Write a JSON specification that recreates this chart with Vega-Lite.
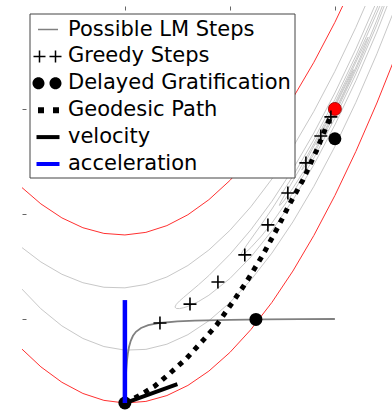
{
  "$schema": "https://vega.github.io/schema/vega-lite/v6.json",
  "autosize": {"type": "none"},
  "padding": {"left": 22, "top": 6, "right": 0, "bottom": 0},
  "width": 370,
  "height": 405,
  "background": "white",
  "config": {"view": {"stroke": null}},
  "datasets": {
    "red": [
      {"c":"ru","i":0,"x":-0.5,"y":0.6341},{"c":"ru","i":1,"x":-0.4,"y":0.5478},{"c":"ru","i":2,"x":-0.3,"y":0.4813},{"c":"ru","i":3,"x":-0.2,"y":0.4345},{"c":"ru","i":4,"x":-0.1,"y":0.4074},{"c":"ru","i":5,"x":0,"y":0.4},{"c":"ru","i":6,"x":0.1,"y":0.4124},{"c":"ru","i":7,"x":0.2,"y":0.4445},{"c":"ru","i":8,"x":0.3,"y":0.4963},{"c":"ru","i":9,"x":0.4,"y":0.5679},{"c":"ru","i":10,"x":0.5,"y":0.6593},{"c":"ru","i":11,"x":0.6,"y":0.7704},{"c":"ru","i":12,"x":0.7,"y":0.9012},{"c":"ru","i":13,"x":0.8,"y":1.0518},{"c":"ru","i":14,"x":0.9,"y":1.2222},{"c":"ru","i":15,"x":1.0,"y":1.4123},{"c":"ru","i":16,"x":1.1,"y":1.6222},
      {"c":"rl","i":0,"x":-0.5,"y":-0.1341},{"c":"rl","i":1,"x":-0.4,"y":-0.2278},{"c":"rl","i":2,"x":-0.3,"y":-0.3013},{"c":"rl","i":3,"x":-0.2,"y":-0.3545},{"c":"rl","i":4,"x":-0.1,"y":-0.3874},{"c":"rl","i":5,"x":0,"y":-0.4},{"c":"rl","i":6,"x":0.1,"y":-0.3924},{"c":"rl","i":7,"x":0.2,"y":-0.3645},{"c":"rl","i":8,"x":0.3,"y":-0.3163},{"c":"rl","i":9,"x":0.4,"y":-0.2479},{"c":"rl","i":10,"x":0.5,"y":-0.1593},{"c":"rl","i":11,"x":0.6,"y":-0.0504},{"c":"rl","i":12,"x":0.7,"y":0.0788},{"c":"rl","i":13,"x":0.8,"y":0.2282},{"c":"rl","i":14,"x":0.9,"y":0.3978},{"c":"rl","i":15,"x":1.0,"y":0.5877},{"c":"rl","i":16,"x":1.1,"y":0.7978},{"c":"rl","i":17,"x":1.2,"y":1.0282},{"c":"rl","i":18,"x":1.3,"y":1.2788},{"c":"rl","i":19,"x":1.4,"y":1.5496}
    ],
    "gray": [
      {"c":"a","i":0,"x":-0.5,"y":0.3475},{"c":"a","i":1,"x":-0.4,"y":0.2714},{"c":"a","i":2,"x":-0.3,"y":0.2129},{"c":"a","i":3,"x":-0.2,"y":0.1727},{"c":"a","i":4,"x":-0.1,"y":0.1511},{"c":"a","i":5,"x":0,"y":0.1483},{"c":"a","i":6,"x":0.1,"y":0.1646},{"c":"a","i":7,"x":0.2,"y":0.2},{"c":"a","i":8,"x":0.3,"y":0.2546},{"c":"a","i":9,"x":0.4,"y":0.3285},{"c":"a","i":10,"x":0.5,"y":0.4218},{"c":"a","i":11,"x":0.6,"y":0.5344},{"c":"a","i":12,"x":0.7,"y":0.6664},{"c":"a","i":13,"x":0.8,"y":0.8178},{"c":"a","i":14,"x":0.9,"y":0.9886},{"c":"a","i":15,"x":1.0,"y":1.1789},{"c":"a","i":16,"x":1.1,"y":1.3886},{"c":"a","i":17,"x":1.2,"y":1.6178},
      {"c":"b","i":0,"x":-0.5,"y":0.1525},{"c":"b","i":1,"x":-0.4,"y":0.0486},{"c":"b","i":2,"x":-0.3,"y":-0.0329},{"c":"b","i":3,"x":-0.2,"y":-0.0927},{"c":"b","i":4,"x":-0.1,"y":-0.1311},{"c":"b","i":5,"x":0,"y":-0.1483},{"c":"b","i":6,"x":0.1,"y":-0.1446},{"c":"b","i":7,"x":0.2,"y":-0.12},{"c":"b","i":8,"x":0.3,"y":-0.0746},{"c":"b","i":9,"x":0.4,"y":-0.0085},{"c":"b","i":10,"x":0.5,"y":0.0782},{"c":"b","i":11,"x":0.6,"y":0.1856},{"c":"b","i":12,"x":0.7,"y":0.3136},{"c":"b","i":13,"x":0.8,"y":0.4622},{"c":"b","i":14,"x":0.9,"y":0.6314},{"c":"b","i":15,"x":1.0,"y":0.8211},{"c":"b","i":16,"x":1.1,"y":1.0314},{"c":"b","i":17,"x":1.2,"y":1.2622},{"c":"b","i":18,"x":1.3,"y":1.5136},
      {"c":"d","i":0,"x":1.2,"y":1.5135},{"c":"d","i":1,"x":1.1,"y":1.2855},{"c":"d","i":2,"x":1.0,"y":1.0762},{"c":"d","i":3,"x":0.9,"y":0.8855},{"c":"d","i":4,"x":0.8,"y":0.7135},{"c":"d","i":5,"x":0.7,"y":0.56},{"c":"d","i":6,"x":0.6,"y":0.4248},{"c":"d","i":7,"x":0.5,"y":0.3074},{"c":"d","i":8,"x":0.4,"y":0.2069},{"c":"d","i":9,"x":0.35,"y":0.1622},{"c":"d","i":10,"x":0.3,"y":0.12},{"c":"d","i":11,"x":0.28,"y":0.1032},{"c":"d","i":12,"x":0.26,"y":0.0856},{"c":"d","i":13,"x":0.245,"y":0.07},{"c":"d","i":14,"x":0.2384,"y":0.0568},{"c":"d","i":15,"x":0.245,"y":0.05},{"c":"d","i":16,"x":0.26,"y":0.0496},{"c":"d","i":17,"x":0.28,"y":0.0536},{"c":"d","i":18,"x":0.3,"y":0.06},{"c":"d","i":19,"x":0.35,"y":0.0828},{"c":"d","i":20,"x":0.4,"y":0.1131},{"c":"d","i":21,"x":0.5,"y":0.1926},{"c":"d","i":22,"x":0.6,"y":0.2952},{"c":"d","i":23,"x":0.7,"y":0.42},{"c":"d","i":24,"x":0.8,"y":0.5665},{"c":"d","i":25,"x":0.9,"y":0.7345},{"c":"d","i":26,"x":1.0,"y":0.9238},{"c":"d","i":27,"x":1.1,"y":1.1345},{"c":"d","i":28,"x":1.2,"y":1.3665},{"c":"d","i":29,"x":1.3,"y":1.62},
      {"c":"e","i":0,"x":1.3,"y":1.7232},{"c":"e","i":1,"x":1.2,"y":1.48},{"c":"e","i":2,"x":1.1,"y":1.2536},{"c":"e","i":3,"x":1.0,"y":1.0447},{"c":"e","i":4,"x":0.9,"y":0.8536},{"c":"e","i":5,"x":0.8,"y":0.68},{"c":"e","i":6,"x":0.7,"y":0.5232},{"c":"e","i":7,"x":0.65,"y":0.4503},{"c":"e","i":8,"x":0.6,"y":0.38},{"c":"e","i":9,"x":0.58,"y":0.3518},{"c":"e","i":10,"x":0.56,"y":0.3216},{"c":"e","i":11,"x":0.5528,"y":0.3056},{"c":"e","i":12,"x":0.56,"y":0.3056},{"c":"e","i":13,"x":0.58,"y":0.321},{"c":"e","i":14,"x":0.6,"y":0.34},{"c":"e","i":15,"x":0.65,"y":0.3947},{"c":"e","i":16,"x":0.7,"y":0.4568},{"c":"e","i":17,"x":0.8,"y":0.6},{"c":"e","i":18,"x":0.9,"y":0.7664},{"c":"e","i":19,"x":1.0,"y":0.9553},{"c":"e","i":20,"x":1.1,"y":1.1664},{"c":"e","i":21,"x":1.2,"y":1.4},{"c":"e","i":22,"x":1.3,"y":1.6568},
      {"c":"f","i":0,"x":1.2646,"y":1.5992},{"c":"f","i":1,"x":1.24,"y":1.5487},{"c":"f","i":2,"x":1.2,"y":1.4573},{"c":"f","i":3,"x":1.15,"y":1.3443},{"c":"f","i":4,"x":1.1,"y":1.2345},{"c":"f","i":5,"x":1.0,"y":1.0265},{"c":"f","i":6,"x":0.9,"y":0.8345},{"c":"f","i":7,"x":0.85,"y":0.7443},{"c":"f","i":8,"x":0.8,"y":0.6573},{"c":"f","i":9,"x":0.76,"y":0.5887},{"c":"f","i":10,"x":0.74,"y":0.5525},{"c":"f","i":11,"x":0.7354,"y":0.5408},{"c":"f","i":12,"x":0.74,"y":0.5427},{"c":"f","i":13,"x":0.76,"y":0.5665},{"c":"f","i":14,"x":0.8,"y":0.6227},{"c":"f","i":15,"x":0.85,"y":0.7007},{"c":"f","i":16,"x":0.9,"y":0.7855},{"c":"f","i":17,"x":1.0,"y":0.9735},{"c":"f","i":18,"x":1.1,"y":1.1855},{"c":"f","i":19,"x":1.15,"y":1.3007},{"c":"f","i":20,"x":1.2,"y":1.4227},{"c":"f","i":21,"x":1.24,"y":1.5265},{"c":"f","i":22,"x":1.2646,"y":1.5992},
      {"c":"g","i":0,"x":0.8419,"y":0.7088},{"c":"g","i":1,"x":0.85,"y":0.7275},{"c":"g","i":2,"x":0.88,"y":0.7847},{"c":"g","i":3,"x":0.92,"y":0.86},{"c":"g","i":4,"x":1.0,"y":1.0158},{"c":"g","i":5,"x":1.08,"y":1.18},{"c":"g","i":6,"x":1.12,"y":1.2647},{"c":"g","i":7,"x":1.15,"y":1.3275},{"c":"g","i":8,"x":1.1581,"y":1.3412},{"c":"g","i":9,"x":1.15,"y":1.3175},{"c":"g","i":10,"x":1.12,"y":1.2441},{"c":"g","i":11,"x":1.08,"y":1.1528},{"c":"g","i":12,"x":1.0,"y":0.9842},{"c":"g","i":13,"x":0.92,"y":0.8328},{"c":"g","i":14,"x":0.88,"y":0.7641},{"c":"g","i":15,"x":0.85,"y":0.7175},{"c":"g","i":16,"x":0.8419,"y":0.7088},
      {"c":"h","i":0,"x":0.9106,"y":0.8292},{"c":"h","i":1,"x":0.92,"y":0.8504},{"c":"h","i":2,"x":0.95,"y":0.9099},{"c":"h","i":3,"x":1.0,"y":1.0089},{"c":"h","i":4,"x":1.05,"y":1.1099},{"c":"h","i":5,"x":1.08,"y":1.1704},{"c":"h","i":6,"x":1.0894,"y":1.1868},{"c":"h","i":7,"x":1.08,"y":1.1624},{"c":"h","i":8,"x":1.05,"y":1.0951},{"c":"h","i":9,"x":1.0,"y":0.9911},{"c":"h","i":10,"x":0.95,"y":0.8951},{"c":"h","i":11,"x":0.92,"y":0.8424},{"c":"h","i":12,"x":0.9106,"y":0.8292}
    ],
    "lm": [
      {"i":0,"x":0,"y":-0.4},{"i":1,"x":0.001,"y":-0.3636},{"i":2,"x":0.002,"y":-0.3333},{"i":3,"x":0.0033,"y":-0.3},{"i":4,"x":0.005,"y":-0.2667},{"i":5,"x":0.0066,"y":-0.24},{"i":6,"x":0.0099,"y":-0.2},{"i":7,"x":0.0141,"y":-0.1647},{"i":8,"x":0.0196,"y":-0.1333},{"i":9,"x":0.0278,"y":-0.1037},{"i":10,"x":0.0385,"y":-0.08},{"i":11,"x":0.0526,"y":-0.061},{"i":12,"x":0.0769,"y":-0.0429},{"i":13,"x":0.1111,"y":-0.0296},{"i":14,"x":0.1667,"y":-0.019},{"i":15,"x":0.25,"y":-0.0117},{"i":16,"x":0.3333,"y":-0.0078},{"i":17,"x":0.5,"y":-0.004},{"i":18,"x":0.6667,"y":-0.002},{"i":19,"x":0.8333,"y":-0.0008},{"i":20,"x":1.0,"y":0}
    ],
    "geo": [
      {"i":0,"x":0,"y":-0.4},{"i":1,"x":0.071,"y":-0.363},{"i":2,"x":0.143,"y":-0.319},{"i":3,"x":0.214,"y":-0.259},{"i":4,"x":0.295,"y":-0.186},{"i":5,"x":0.371,"y":-0.103},{"i":6,"x":0.438,"y":-0.027},{"i":7,"x":0.514,"y":0.081},{"i":8,"x":0.581,"y":0.18},{"i":9,"x":0.657,"y":0.305},{"i":10,"x":0.729,"y":0.438},{"i":11,"x":0.786,"y":0.55},{"i":12,"x":0.848,"y":0.662},{"i":13,"x":0.914,"y":0.805},{"i":14,"x":0.967,"y":0.935},{"i":15,"x":0.99,"y":0.99}
    ],
    "greedy": [
      {"x":0.167,"y":-0.019},{"x":0.31,"y":0.071},{"x":0.443,"y":0.176},{"x":0.571,"y":0.305},{"x":0.681,"y":0.448},{"x":0.776,"y":0.6},{"x":0.862,"y":0.743},{"x":0.933,"y":0.871},{"x":0.981,"y":0.962}
    ],
    "dots": [
      {"x":0,"y":-0.4},{"x":0.624,"y":-0.002},{"x":1.0,"y":0.858}
    ],
    "best": [{"x":1.0,"y":1.0}],
    "vel": [{"i":0,"x":0,"y":-0.4},{"i":1,"x":0.25,"y":-0.31}],
    "acc": [{"i":0,"x":0,"y":-0.4},{"i":1,"x":0,"y":0.09}],
    "legend": [
      {"series":"Possible LM Steps"},{"series":"Greedy Steps"},{"series":"Delayed Gratification"},{"series":"Geodesic Path"},{"series":"velocity"},{"series":"acceleration"}
    ]
  },
  "encoding": {
    "x": {"field": "x", "type": "quantitative", "scale": {"domain": [-0.49, 1.272], "nice": false, "zero": false},
          "axis": {"orient": "top", "values": [0, 0.5, 1], "labels": false, "domain": false, "grid": false, "title": null, "tickSize": -4, "tickColor": "#666", "tickWidth": 1}},
    "y": {"field": "y", "type": "quantitative", "scale": {"domain": [-0.438, 1.49], "nice": false, "zero": false},
          "axis": {"orient": "left", "values": [0, 0.5, 1], "labels": false, "domain": false, "grid": false, "title": null, "tickSize": -4, "tickColor": "#666", "tickWidth": 1}}
  },
  "layer": [
    {"data": {"name": "gray"}, "mark": {"type": "line", "clip": true, "stroke": "#c8c8c8", "strokeWidth": 1},
     "encoding": {"detail": {"field": "c"}, "order": {"field": "i", "type": "quantitative"}}},
    {"data": {"name": "red"}, "mark": {"type": "line", "clip": true, "stroke": "#ff3030", "strokeWidth": 1},
     "encoding": {"detail": {"field": "c"}, "order": {"field": "i", "type": "quantitative"}}},
    {"data": {"name": "lm"}, "mark": {"type": "line", "clip": true, "stroke": "#808080", "strokeWidth": 1.8},
     "encoding": {"order": {"field": "i", "type": "quantitative"}}},
    {"data": {"name": "geo"}, "mark": {"type": "line", "clip": true, "stroke": "#000", "strokeWidth": 5, "strokeDash": [5, 6], "strokeCap": "butt"},
     "encoding": {"order": {"field": "i", "type": "quantitative"}}},
    {"data": {"name": "vel"}, "mark": {"type": "line", "clip": true, "stroke": "#000", "strokeWidth": 4, "strokeCap": "butt"},
     "encoding": {"order": {"field": "i", "type": "quantitative"}}},
    {"data": {"name": "dots"}, "mark": {"type": "point", "clip": true, "shape": "circle", "filled": true, "fill": "#000", "size": 169, "opacity": 1}},
    {"data": {"name": "best"}, "mark": {"type": "point", "clip": true, "shape": "circle", "filled": true, "fill": "#ff0000", "stroke": "#900000", "strokeWidth": 0.8, "size": 169, "opacity": 1}},
    {"data": {"name": "greedy"}, "mark": {"type": "point", "clip": true, "shape": "M-1,0H1M0,-1V1", "filled": false, "stroke": "#000", "strokeWidth": 1.6, "size": 169, "opacity": 1}},
    {"data": {"name": "acc"}, "mark": {"type": "line", "clip": true, "stroke": "#0000ff", "strokeWidth": 4.5, "strokeCap": "butt"},
     "encoding": {"order": {"field": "i", "type": "quantitative"}}},
    {"data": {"name": "legend"}, "transform": [{"filter": "false"}],
     "mark": {"type": "point", "filled": true, "opacity": 1, "strokeWidth": 0},
     "encoding": {
       "shape": {"field": "series", "type": "nominal",
         "scale": {"domain": ["Possible LM Steps", "Greedy Steps", "Delayed Gratification", "Geodesic Path", "velocity", "acceleration"],
                   "range": ["M-0.6,-0.06H1.0V0.06H-0.6Z",
                             "M-0.96,-0.06H0.0V0.06H-0.96ZM-0.54,-0.48H-0.42V0.48H-0.54ZM0.32,-0.06H1.28V0.06H0.32ZM0.74,-0.48H0.86V0.48H0.74Z",
                             "M-1.04,0A0.48,0.48 0 1,0 -0.08,0A0.48,0.48 0 1,0 -1.04,0ZM0.32,0A0.48,0.48 0 1,0 1.28,0A0.48,0.48 0 1,0 0.32,0Z",
                             "M-0.6,-0.24H-0.12V0.24H-0.6ZM0.6,-0.24H1.08V0.24H0.6Z",
                             "M-0.72,-0.16H1.12V0.16H-0.72Z",
                             "M-0.72,-0.16H1.12V0.16H-0.72Z"]},
         "legend": {"title": null, "orient": "none", "legendX": 7.5, "legendY": 7.5, "direction": "vertical", "padding": 3.5, "rowPadding": 3.9, "symbolSize": 625, "symbolStrokeWidth": 0, "labelFontSize": 21, "labelFont": "DejaVu Sans", "labelColor": "#000", "labelOffset": 10, "labelLimit": 400, "fillColor": "#ffffff", "strokeColor": "#444444", "cornerRadius": 0}},
       "color": {"field": "series", "type": "nominal",
         "scale": {"domain": ["Possible LM Steps", "Greedy Steps", "Delayed Gratification", "Geodesic Path", "velocity", "acceleration"],
                   "range": ["#808080", "#000000", "#000000", "#000000", "#000000", "#0000ff"]},
         "legend": {"title": null, "orient": "none", "legendX": 7.5, "legendY": 7.5, "direction": "vertical", "padding": 3.5, "rowPadding": 3.9, "symbolSize": 625, "symbolStrokeWidth": 0, "labelFontSize": 21, "labelFont": "DejaVu Sans", "labelColor": "#000", "labelOffset": 10, "labelLimit": 400, "fillColor": "#ffffff", "strokeColor": "#444444", "cornerRadius": 0}}
     }}
  ]
}
